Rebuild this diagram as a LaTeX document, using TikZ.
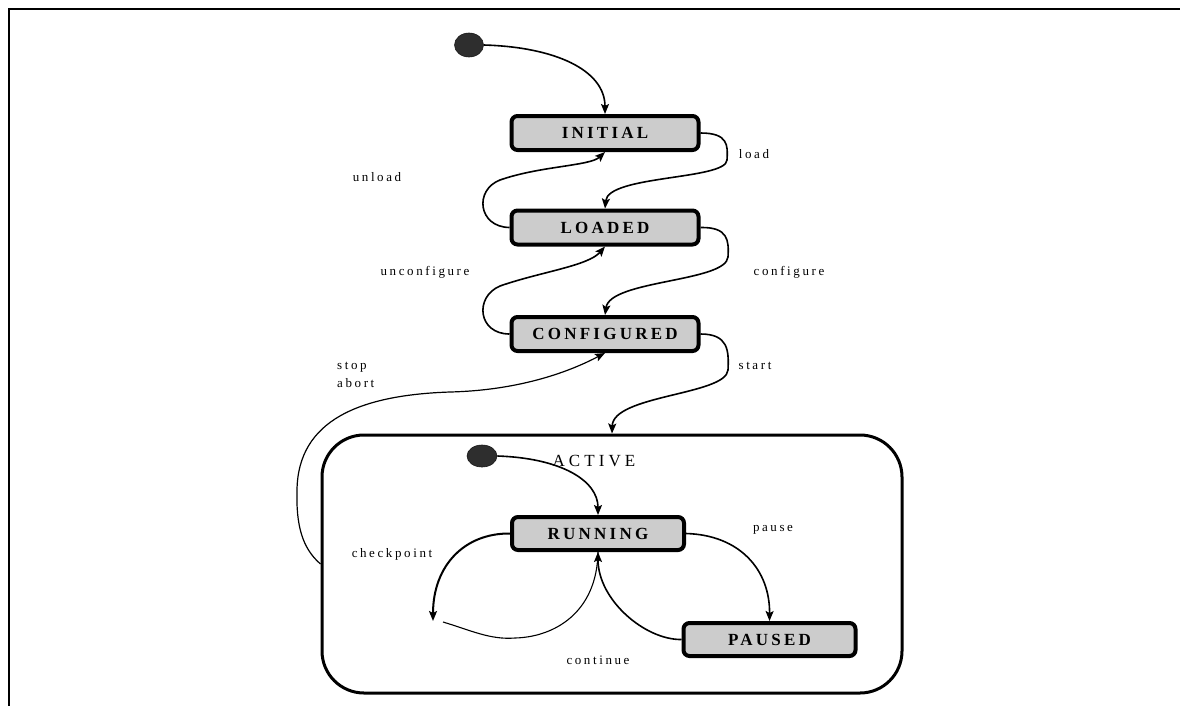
\documentclass[tikz,border=0pt]{standalone}
\usepackage{fontspec}
\setmainfont{Liberation Serif}
\newfontfamily\boxfont[LetterSpace=19]{Liberation Serif}
\newfontfamily\lblfont[LetterSpace=20]{Liberation Serif}
\newfontfamily\actfont[LetterSpace=24]{Liberation Serif}
\usetikzlibrary{arrows.meta,shapes.geometric}
\begin{document}
\begin{tikzpicture}[x=1pt,y=-1pt,
  statebox/.style={draw, line width=4pt, rounded corners=6pt, fill=black!20,
    inner sep=0pt, font=\boxfont\fontsize{17}{20}\selectfont\bfseries},
  bigbox/.style={statebox, minimum width=187pt, minimum height=34pt},
  smallbox/.style={statebox, minimum width=172pt, minimum height=33pt},
  startdot/.style={ellipse, fill=black!82, draw=black!90, line width=0.6pt, inner sep=0pt},
  conn/.style={line width=1.6pt, -{Stealth[length=10pt,width=8pt,inset=2pt]}},
  thinconn/.style={line width=1.1pt},
  lbl/.style={font=\lblfont\fontsize{13}{18}\selectfont, inner sep=0pt},
  container/.style={draw, line width=3pt, rounded corners=42pt, inner sep=0pt}
]
\useasboundingbox (0,0) rectangle (1180,705);
% frame
\draw[line width=2.6pt] (9,706) -- (9,9) -- (1181,9);

% container
\node[container, minimum width=580pt, minimum height=258pt] (active) at (612,564) {};
\node[font=\actfont\fontsize{17}{20}\selectfont, inner sep=0pt] (activelbl) at (594,461) {ACTIVE};

% states
\node[startdot, minimum width=29pt, minimum height=24pt] (s0) at (469,45) {};
\node[bigbox] (init) at (605,133) {INITIAL};
\node[bigbox] (ld) at (605,227.5) {LOADED};
\node[bigbox] (cfg) at (605,334) {CONFIGURED};
\node[startdot, minimum width=30pt, minimum height=22pt] (s1) at (482,456) {};
\node[smallbox] (run) at (598,533.5) {RUNNING};
\node[smallbox] (pau) at (769.5,639.5) {PAUSED};
\coordinate (cpt) at (433,621);
\coordinate (cptb) at (443,622);

% labels
\node[lbl] (lload) at (754,154) {load};
\node[lbl] (lunload) at (377,177) {unload};
\node[lbl] (lunconf) at (425,272) {unconfigure};
\node[lbl] (lconf) at (789,272) {configure};
\node[lbl, align=left, anchor=west] (lstop) at (337,375) {stop\\abort};
\node[lbl] (lstart) at (755,366) {start};
\node[lbl] (lcheck) at (392,554) {checkpoint};
\node[lbl] (lpause) at (773,530) {pause};
\node[lbl] (lcont) at (598,660) {continue};

% connectors
\draw[conn] (s0.east) .. controls (555,47) and (605,70) .. (init.north);
\draw[conn] (init.east) .. controls (728,133) and (728,145) .. (727,160)
  .. controls (726,180) and (608,175) .. (ld.north);
\draw[conn] (ld.west) .. controls (478,227) and (474,190) .. (500,180)
  .. controls (540,166) and (590,166) .. (init.south);
\draw[conn] (ld.east) .. controls (728,227) and (729,240) .. (728,257)
  .. controls (726,282) and (610,280) .. (cfg.north);
\draw[conn] (cfg.west) .. controls (478,334) and (474,297) .. (500,286)
  .. controls (540,272) and (588,266) .. (ld.south);
\draw[conn] (cfg.east) .. controls (728,334) and (729,350) .. (728,370)
  .. controls (726,395) and (613,395) .. (active.north);
\draw[conn, line width=1.2pt] (active.west) .. controls (302,548) and (296,525) .. (297,490)
  .. controls (298,420) and (360,395) .. (450,392)
  .. controls (530,390) and (580,366) .. (cfg.south);
\draw[conn] (s1.east) .. controls (560,458) and (598,480) .. (run.north);
\draw[conn] (run.east) .. controls (740,535) and (770,570) .. (pau.north);
\draw[conn] (pau.west) .. controls (645,640) and (598,600) .. (run.south);
\draw[conn, line width=2pt] (run.west) .. controls (465,533) and (433,565) .. (cpt);
\draw[thinconn] (cptb) .. controls (470,630) and (490,640) .. (515,638)
  .. controls (555,637) and (597,612) .. (run.south);
\end{tikzpicture}
\end{document}
